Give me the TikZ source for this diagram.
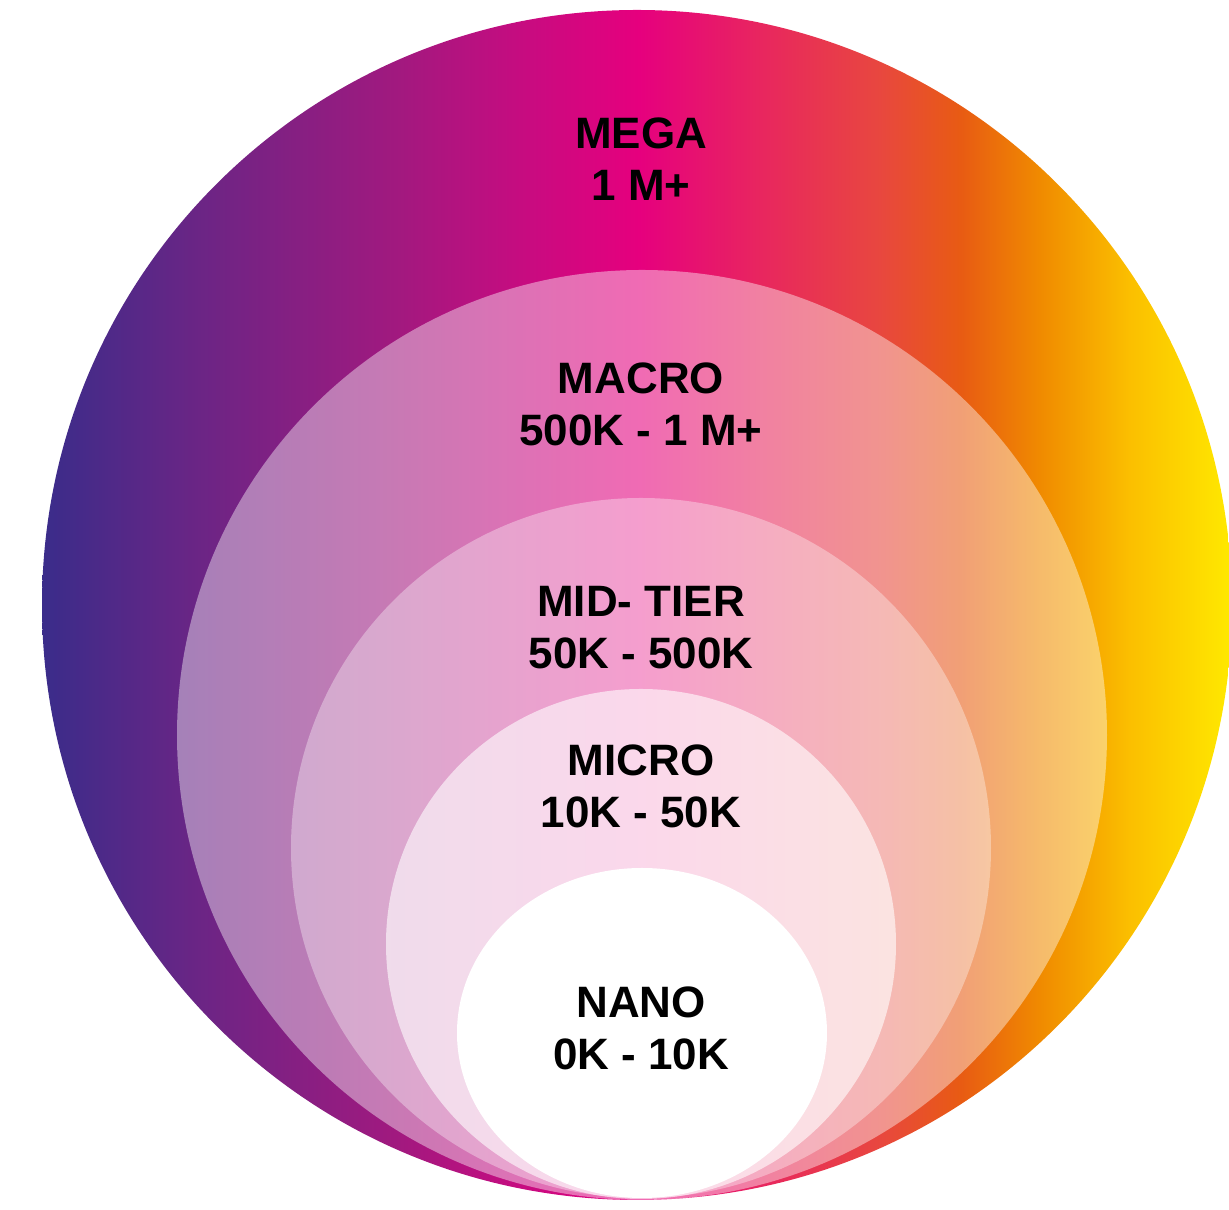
\documentclass[tikz,border=0pt]{standalone}
\usepackage{fontspec}
\setmainfont{Liberation Sans}
\usepackage{tikz}
\usetikzlibrary{shapes}

\definecolor{c0}{HTML}{3A2C8A}
\definecolor{c1}{HTML}{6B2585}
\definecolor{c2}{HTML}{A2197F}
\definecolor{c3}{HTML}{C60C80}
\definecolor{c4}{HTML}{E6007E}
\definecolor{c5}{HTML}{E8265F}
\definecolor{c6}{HTML}{E8473F}
\definecolor{c7}{HTML}{E85B13}
\definecolor{c8}{HTML}{F08A00}
\definecolor{c9}{HTML}{FBBF00}
\definecolor{c10}{HTML}{FFE900}
\pgfdeclarehorizontalshading{megashade}{100bp}{%
  color(0bp)=(c0); color(25bp)=(c0); color(31.6bp)=(c1); color(40bp)=(c2);
  color(45.1bp)=(c3); color(50.1bp)=(c4); color(55.2bp)=(c5); color(60.2bp)=(c6);
  color(63.6bp)=(c7); color(66.9bp)=(c8); color(70.7bp)=(c9); color(75bp)=(c10);
  color(100bp)=(c10)}

\tikzset{
  tierlabel/.style={align=center, text=black,
    font=\bfseries\fontsize{12.5}{14.8}\selectfont}
}

\begin{document}
\begin{tikzpicture}[x=0.01cm, y=-0.01cm]
        \useasboundingbox (0,0) rectangle (1229,1210);
        \shade[shading=megashade] (637,605) circle (595);
        \fill[white, opacity=.42] (642,735) circle (465);
        \fill[white, opacity=.35] (641,848) circle (350);
        \fill[white, opacity=.6] (641,944) circle (255);
        \fill[white] (642,1033) ellipse (185 and 165);
        \node[tierlabel] (mega) at (641,159) {MEGA\\1 M+};
        \node[tierlabel] (macro) at (641,404) {MACRO\\500K - 1 M+};
        \node[tierlabel] (midtier) at (641,628) {MID- TIER\\50K - 500K};
        \node[tierlabel] (micro) at (641,786) {MICRO\\10K - 50K};
        \node[tierlabel] (nano) at (641,1028) {NANO\\0K - 10K};
      \end{tikzpicture}
\end{document}
